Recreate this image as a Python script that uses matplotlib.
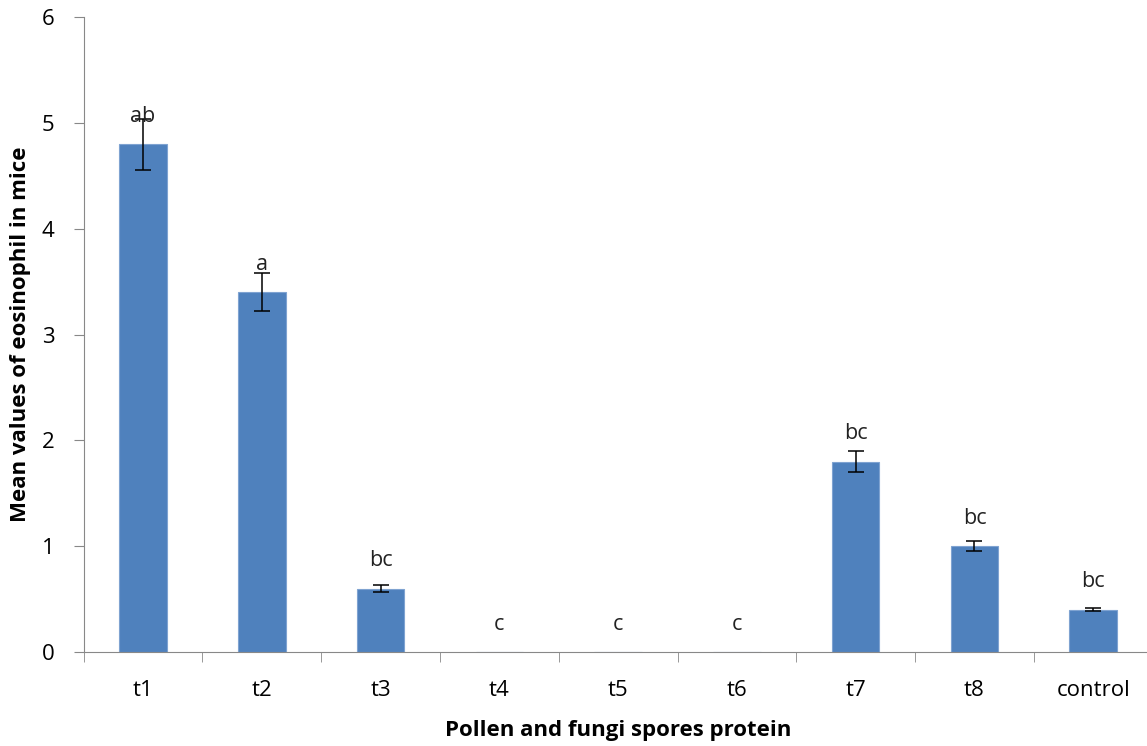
import numpy as np
import matplotlib.pyplot as plt

categories = ['t1', 't2', 't3', 't4', 't5', 't6', 't7', 't8', 'control']
means = [4.8, 3.4, 0.6, 0.0, 0.0, 0.0, 1.8, 1.0, 0.4]
errors = [0.24, 0.18, 0.035, 0.0, 0.0, 0.0, 0.1, 0.05, 0.015]
letters = ['ab', 'a', 'bc', 'c', 'c', 'c', 'bc', 'bc', 'bc']

plt.rcParams['font.family'] = ['Open Sans', 'DejaVu Sans']

fig = plt.figure(figsize=(11.47, 7.46), dpi=100)
ax = fig.add_axes([0.0729, 0.126, 0.932, 0.851])

x = np.arange(len(categories))
ax.bar(x, means, width=0.4, color='#4F81BD', edgecolor='#7FA3D1', linewidth=0.8, zorder=2)
ax.errorbar(x, means, yerr=[e if e > 0 else np.nan for e in errors], fmt='none',
            ecolor='black', elinewidth=1.1, capsize=6, capthick=1.1, zorder=3)

for xi, m, lab in zip(x, means, letters):
    ax.annotate(lab, (xi, m), xytext=(0, 20), textcoords='offset points',
                ha='center', va='center', fontsize=15.5, color='#222222')

ax.set_xlim(-0.5, len(categories) - 0.5)
ax.set_ylim(0, 6)
ax.set_yticks(range(0, 7))
ax.set_xticks(x)
ax.set_xticklabels(categories)
ax.set_xticks(np.arange(-0.5, len(categories)), minor=True)
ax.tick_params(axis='x', which='major', length=0, pad=20, labelsize=16)
ax.tick_params(axis='x', which='minor', length=7, color='#888888', direction='out')
ax.tick_params(axis='y', length=7, color='#888888', labelsize=16, pad=14)

for s in ['top', 'right']:
    ax.spines[s].set_visible(False)
for s in ['left', 'bottom']:
    ax.spines[s].set_color('#888888')

ax.set_xlabel('Pollen and fungi spores protein', fontsize=16, fontweight='bold', labelpad=14)
ax.set_ylabel('Mean values of eosinophil in mice', fontsize=16, fontweight='bold', labelpad=8)

fig.savefig('out.png', dpi=100)
